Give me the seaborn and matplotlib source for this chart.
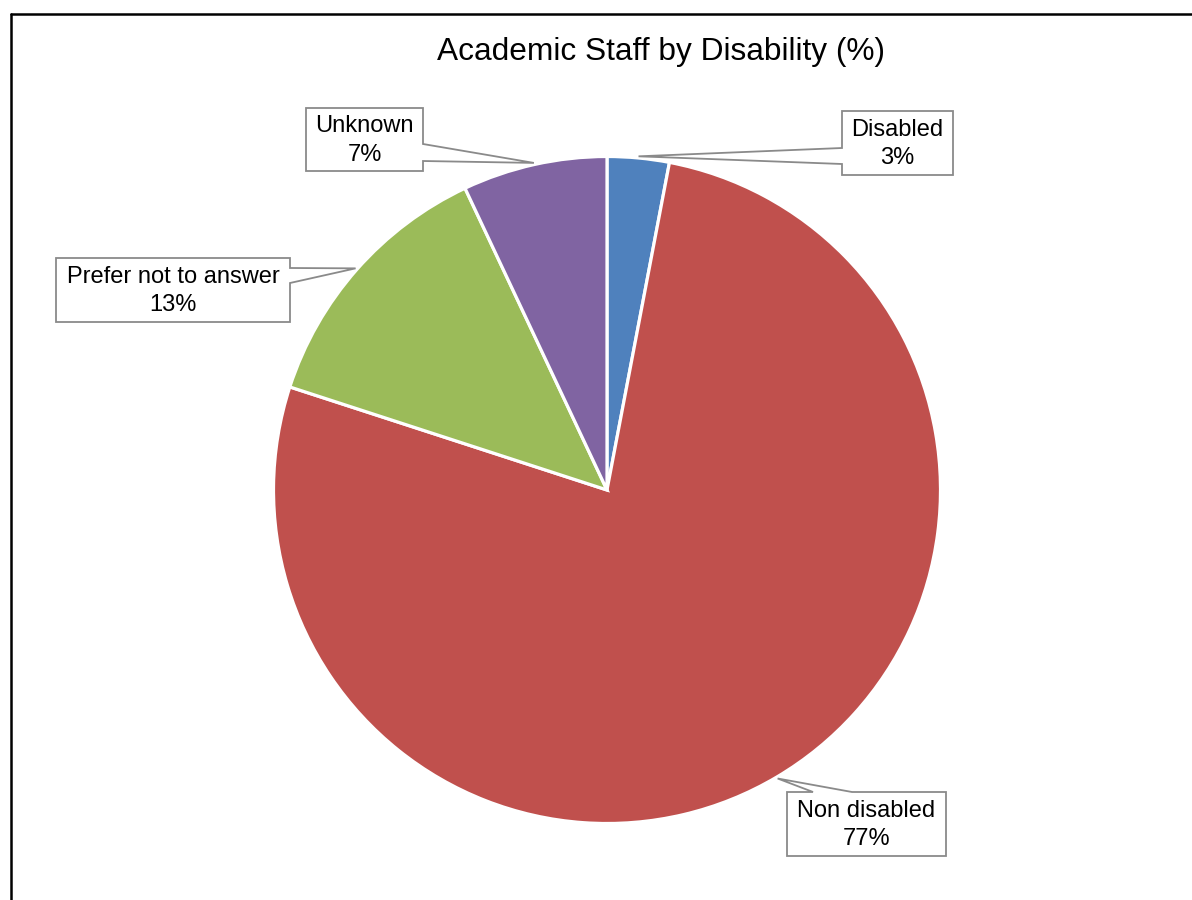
import numpy as np
import matplotlib
matplotlib.use("Agg")
import matplotlib.pyplot as plt
from matplotlib.patches import Polygon
from matplotlib.lines import Line2D
import seaborn as sns

# Data
categories = ["Disabled", "Non disabled", "Prefer not to answer", "Unknown"]
shares = [3, 77, 13, 7]
slice_colors = ["#4F81BD", "#C0504D", "#9BBB59", "#8064A2"]

sns.set_theme(style="white")
plt.rcParams["font.family"] = ["Liberation Sans", "DejaVu Sans"]

W, H = 1192, 900
fig = plt.figure(figsize=(W / 100, H / 100), dpi=100)
fig.patch.set_facecolor("white")
ax = fig.add_axes([0, 0, 1, 1])

# Pie geometry in pixel units (y measured from the bottom)
cx, cy, R = 607, H - 490, 333.5
wedges, _ = ax.pie(
    shares,
    colors=slice_colors,
    startangle=90,
    counterclock=False,
    center=(cx, cy),
    radius=R,
    wedgeprops=dict(edgecolor="white", linewidth=2.3),
)
ax.set_xlim(0, W)
ax.set_ylim(0, H)
ax.set_aspect("equal")
ax.axis("off")

# Callout boxes: (left, top, right, bottom) in image pixels, side of pointer, pointer base span
callouts = {
    "Disabled": ((842, 111, 953, 175), "left", (148, 164)),
    "Non disabled": ((787, 792, 946, 856), "top", (813, 852)),
    "Prefer not to answer": ((56, 258, 290, 322), "right", (268, 283)),
    "Unknown": ((306, 108, 423, 171), "right", (144, 161)),
}

total = float(sum(shares))
cum = np.cumsum([0] + shares[:-1])
for name, val, start in zip(categories, shares, cum):
    (x0, y0, x1, y1), side, (a, b) = callouts[name]
    # pointer tip sits on the rim at the slice's middle angle
    mid = np.deg2rad(90 - 360 * (start + val / 2) / total)
    tx = cx + 1.005 * R * np.cos(mid)
    ty = H - (cy + 1.005 * R * np.sin(mid))
    tip = (tx, ty)
    if side == "top":
        pts = [(x0, y0), (a, y0), tip, (b, y0), (x1, y0), (x1, y1), (x0, y1)]
    elif side == "right":
        pts = [(x0, y0), (x1, y0), (x1, a), tip, (x1, b), (x1, y1), (x0, y1)]
    elif side == "bottom":
        pts = [(x0, y0), (x1, y0), (x1, y1), (b, y1), tip, (a, y1), (x0, y1)]
    else:
        pts = [(x0, y0), (x1, y0), (x1, y1), (x0, y1), (x0, b), tip, (x0, a)]
    pts = [(px, H - py) for px, py in pts]
    ax.add_patch(Polygon(pts, closed=True, facecolor="white",
                         edgecolor="#8a8a8a", linewidth=1.3, zorder=5))
    ax.text((x0 + x1) / 2, H - (y0 + y1) / 2 - 1, f"{name}\n{val}%",
            ha="center", va="center", fontsize=17, color="black",
            linespacing=1.38, zorder=6)

# Title
ax.text(661, H - 52, "Academic Staff by Disability (%)", ha="center", va="center",
        fontsize=22.8, color="black")

# Outer frame (left and top edges)
fig.add_artist(Line2D([10.5 / W, 10.5 / W], [0, 1 - 14 / H], transform=fig.transFigure,
                      color="black", linewidth=1.8))
fig.add_artist(Line2D([10.5 / W, 1], [1 - 14 / H, 1 - 14 / H], transform=fig.transFigure,
                      color="black", linewidth=1.8))

fig.savefig("out.png", dpi=100, facecolor="white")
